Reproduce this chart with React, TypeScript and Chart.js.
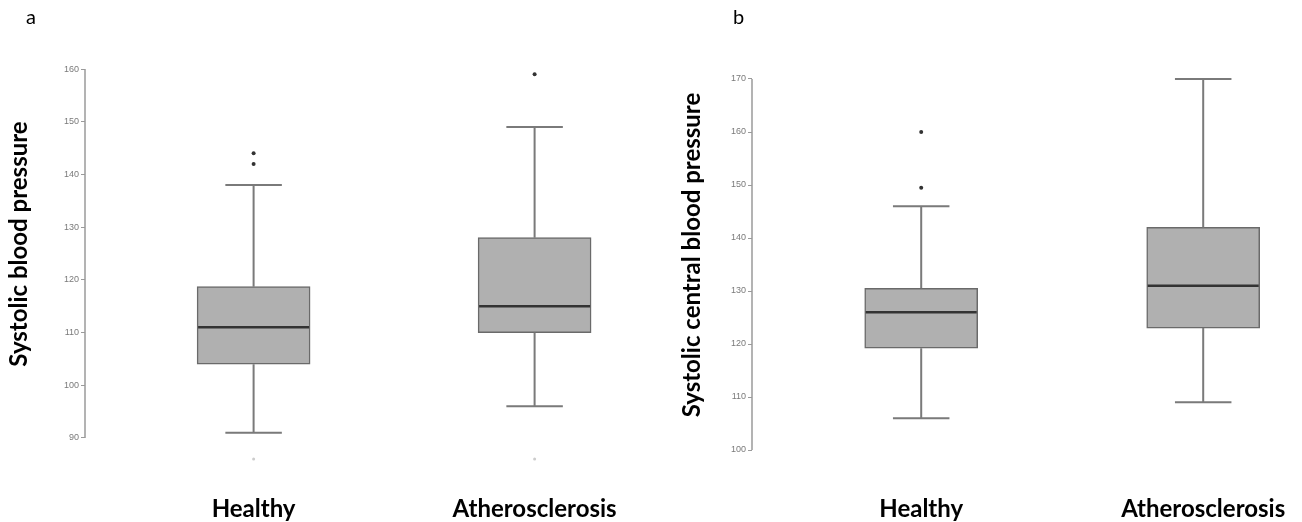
import React, { useEffect, useRef } from 'react';
import { Chart, registerables } from 'chart.js';

Chart.register(...registerables);

const categories = ['Healthy', 'Atherosclerosis'];

// Panel a: Systolic blood pressure
const aTitle = 'Systolic blood pressure';
const aWhiskerLow = [91, 96];
const aQ1 = [104, 110];
const aMedian = [111, 115];
const aQ3 = [118.7, 128];
const aWhiskerHigh = [138, 149];
const aOutliers = [[144, 142], [159]];
const aFaintOutliers = [[86], [86]];
const aTicks = [90, 100, 110, 120, 130, 140, 150, 160];

// Panel b: Systolic central blood pressure
const bTitle = 'Systolic central blood pressure';
const bWhiskerLow = [106, 109];
const bQ1 = [119.2, 123];
const bMedian = [126, 131];
const bQ3 = [130.5, 142];
const bWhiskerHigh = [146, 170];
const bOutliers = [[160, 149.5], []];
const bFaintOutliers: number[][] = [[], []];
const bTicks = [100, 110, 120, 130, 140, 150, 160, 170];

type PanelCfg = {
  left: number;
  letter: string;
  letterX: number;
  title: string;
  titleX: number;
  titleY: number;
  whiskerLow: number[];
  q1: number[];
  median: number[];
  q3: number[];
  whiskerHigh: number[];
  outliers: number[][];
  faint: number[][];
  ticks: number[];
  yMin: number;
  yMax: number;
  xMax: number;
  axisW: number;
  padTop: number;
  padRight: number;
  xAxisH: number;
  xLabelPad: number;
};

const CANVAS_W = 651;
const CANVAS_H = 522;
const BOX_W = 113;
const LABEL_FONT = 24;

function BoxPanel({ cfg }: { cfg: PanelCfg }) {
  const ref = useRef<HTMLCanvasElement>(null);
  useEffect(() => {
    const boxPlugin = {
      id: 'boxWhiskers',
      afterDatasetsDraw(chart: any) {
        const { ctx, scales, chartArea } = chart;
        const xs = scales.x;
        const ys = scales.y;
        ctx.save();
        // y axis line from first to last tick
        ctx.strokeStyle = '#9a9a9a';
        ctx.lineWidth = 1.5;
        ctx.beginPath();
        ctx.moveTo(chartArea.left, ys.getPixelForValue(cfg.ticks[0]));
        ctx.lineTo(chartArea.left, ys.getPixelForValue(cfg.ticks[cfg.ticks.length - 1]));
        ctx.stroke();
        categories.forEach((_, i) => {
          const cx = xs.getPixelForValue(i);
          const capHalf = BOX_W / 4;
          const yLow = ys.getPixelForValue(cfg.whiskerLow[i]);
          const yQ1 = ys.getPixelForValue(cfg.q1[i]);
          const yQ3 = ys.getPixelForValue(cfg.q3[i]);
          const yHigh = ys.getPixelForValue(cfg.whiskerHigh[i]);
          const yMed = ys.getPixelForValue(cfg.median[i]);
          ctx.strokeStyle = '#7a7a7a';
          ctx.lineWidth = 2;
          ctx.beginPath();
          ctx.moveTo(cx, yQ1);
          ctx.lineTo(cx, yLow);
          ctx.moveTo(cx, yQ3);
          ctx.lineTo(cx, yHigh);
          ctx.moveTo(cx - capHalf, yLow);
          ctx.lineTo(cx + capHalf, yLow);
          ctx.moveTo(cx - capHalf, yHigh);
          ctx.lineTo(cx + capHalf, yHigh);
          ctx.stroke();
          ctx.strokeStyle = '#333333';
          ctx.lineWidth = 2.5;
          ctx.beginPath();
          ctx.moveTo(cx - BOX_W / 2 + 1, yMed);
          ctx.lineTo(cx + BOX_W / 2 - 1, yMed);
          ctx.stroke();
        });
        // y axis title
        ctx.translate(cfg.titleX, cfg.titleY);
        ctx.rotate(-Math.PI / 2);
        ctx.fillStyle = '#000';
        ctx.font = 'bold ' + LABEL_FONT + 'px Lato';
        ctx.textAlign = 'center';
        ctx.textBaseline = 'middle';
        ctx.fillText(cfg.title, 0, 0);
        ctx.restore();
      },
    };

    const outlierPts: { x: number; y: number }[] = [];
    cfg.outliers.forEach((arr, i) => arr.forEach((v) => outlierPts.push({ x: i, y: v })));
    const faintPts: { x: number; y: number }[] = [];
    cfg.faint.forEach((arr, i) => arr.forEach((v) => faintPts.push({ x: i, y: v })));

    const chart = new Chart(ref.current as HTMLCanvasElement, {
      type: 'bar',
      data: {
        datasets: [
          {
            type: 'bar',
            data: categories.map((_, i) => ({ x: i, y: [cfg.q1[i], cfg.q3[i]] })) as any,
            backgroundColor: '#b0b0b0',
            borderColor: '#6a6a6a',
            borderWidth: 1.5,
            borderSkipped: false,
            barThickness: BOX_W,
          },
          {
            type: 'scatter',
            data: outlierPts,
            pointRadius: 2,
            backgroundColor: '#333333',
            borderWidth: 0,
          },
          {
            type: 'scatter',
            data: faintPts,
            pointRadius: 1.5,
            backgroundColor: '#cccccc',
            borderWidth: 0,
          },
        ] as any,
      },
      options: {
        responsive: false,
        animation: false,
        layout: { padding: { left: 0, right: cfg.padRight, top: cfg.padTop, bottom: 0 } },
        plugins: { legend: { display: false }, tooltip: { enabled: false } },
        scales: {
          x: {
            type: 'linear',
            offset: false,
            bounds: 'data',
            min: -0.6,
            max: cfg.xMax,
            grid: { display: false, drawTicks: false, offset: false },
            border: { display: false },
            afterBuildTicks: (s: any) => {
              s.ticks = categories.map((_, i) => ({ value: i }));
            },
            afterFit: (s: any) => {
              s.height = cfg.xAxisH;
              s.paddingLeft = 0;
              s.paddingRight = 0;
            },
            ticks: {
              callback: (v: any) => categories[v as number] ?? '',
              font: { family: 'Lato', weight: 'bold', size: LABEL_FONT },
              color: '#000',
              padding: cfg.xLabelPad,
              maxRotation: 0,
              autoSkip: false,
            },
          },
          y: {
            min: cfg.yMin,
            max: cfg.yMax,
            afterBuildTicks: (s: any) => {
              s.ticks = cfg.ticks.map((v) => ({ value: v }));
            },
            afterFit: (s: any) => {
              s.width = cfg.axisW;
              s.paddingTop = 0;
              s.paddingBottom = 0;
            },
            grid: { display: true, drawOnChartArea: false, tickLength: 4, color: '#9a9a9a', lineWidth: 1 },
            border: { display: false },
            ticks: { font: { family: 'Liberation Sans', size: 9 }, color: '#7a7a7a', padding: 2 },
          },
        },
      } as any,
      plugins: [boxPlugin],
    });
    return () => chart.destroy();
  }, []);
  return (
    <>
      <canvas
        ref={ref}
        width={CANVAS_W}
        height={CANVAS_H}
        style={{ position: 'absolute', left: cfg.left, top: 0, width: CANVAS_W, height: CANVAS_H }}
      />
      <div
        style={{
          position: 'absolute',
          left: cfg.left + cfg.letterX,
          top: 4,
          fontFamily: 'Lato',
          fontSize: 20,
          color: '#000',
        }}
      >
        {cfg.letter}
      </div>
    </>
  );
}

const panelA: PanelCfg = {
  left: 0,
  letter: 'a',
  letterX: 26,
  title: aTitle,
  titleX: 19,
  titleY: 244,
  whiskerLow: aWhiskerLow,
  q1: aQ1,
  median: aMedian,
  q3: aQ3,
  whiskerHigh: aWhiskerHigh,
  outliers: aOutliers,
  faint: aFaintOutliers,
  ticks: aTicks,
  yMin: 85,
  yMax: 162,
  xMax: 1.4,
  axisW: 85,
  padTop: 58.5,
  padRight: 2,
  xAxisH: 57.7,
  xLabelPad: 31,
};

const panelB: PanelCfg = {
  left: 651,
  letter: 'b',
  letterX: 82,
  title: bTitle,
  titleX: 41,
  titleY: 255,
  whiskerLow: bWhiskerLow,
  q1: bQ1,
  median: bMedian,
  q3: bQ3,
  whiskerHigh: bWhiskerHigh,
  outliers: bOutliers,
  faint: bFaintOutliers,
  ticks: bTicks,
  yMin: 98,
  yMax: 172,
  xMax: 1.3,
  axisW: 101,
  padTop: 68.4,
  padRight: 14.2,
  xAxisH: 61.4,
  xLabelPad: 34.6,
};

export default function App() {
  return (
    <div style={{ position: 'absolute', left: 0, top: 0, width: 1302, height: 522, background: '#fff' }}>
      <BoxPanel cfg={panelA} />
      <BoxPanel cfg={panelB} />
    </div>
  );
}
